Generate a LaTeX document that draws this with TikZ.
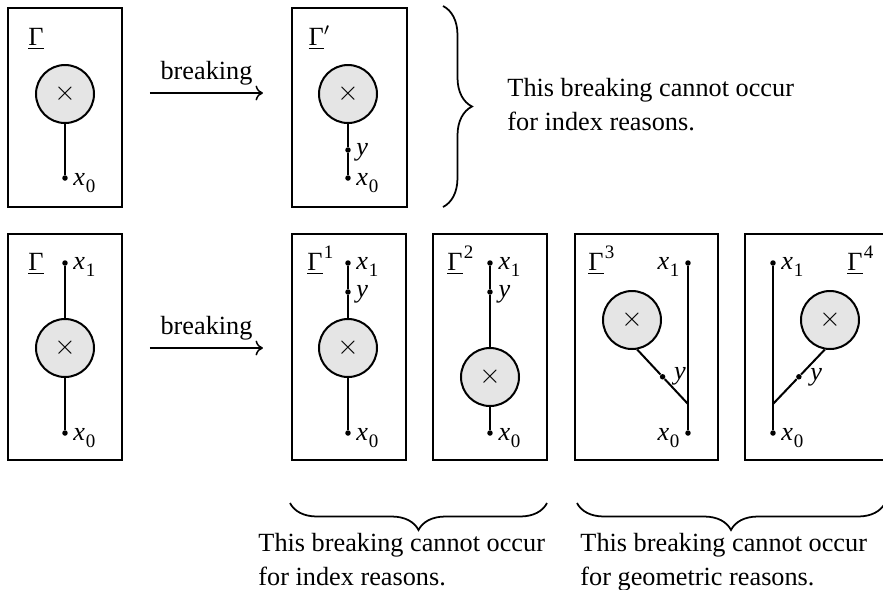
\documentclass[tikz,border=0pt]{standalone}
\usepackage{fontspec}
\setmainfont{Liberation Serif}
\usetikzlibrary{arrows.meta,decorations.pathreplacing,calc}
\newcommand\myx[1]{\textit{x}\kern0.3pt\raisebox{-0.28em}{\fontsize{7.6}{8}\selectfont #1}}
\newcommand\myy{\textit{y}}
\newcommand\myG[1]{\underline{Γ}\raisebox{0.45em}{\fontsize{7.6}{8}\selectfont\kern0.5pt #1}}
\begin{document}
\begin{tikzpicture}[x=0.4pt,y=-0.4pt,
  font=\fontsize{10.5}{13.6}\selectfont,
  frame/.style={draw, line width=0.8pt, inner sep=0pt},
  blob/.style={circle, draw, line width=0.8pt, fill=black!10, minimum size=23.2pt, inner sep=0pt},
  pt/.style={circle, fill=black, inner sep=0pt, minimum size=2.2pt},
  edge/.style={line width=0.8pt},
  arr/.style={line width=0.6pt, -{To[length=3pt,width=6pt]}},
  lw/.style={anchor=base west, inner sep=0pt},
  le/.style={anchor=base east, inner sep=0pt},
  brc/.style={decorate, line width=0.7pt},
  txt/.style={align=left, inner sep=0pt}]
\useasboundingbox (0,0) rectangle (883,589);

% ---------- top row ----------
\node[frame, minimum width=45.6pt, minimum height=79.6pt] (B1) at (65,107.5) {};
\node[lw] (G1) at (28,45) {\myG{}};
\node[blob] (C1) at (65,94) {$\times$};
\node[pt] (P1) at (65,178) {};
\draw[edge] (C1) -- (P1);
\node[lw] (L1) at ($(P1)+(8,7)$) {\myx{0}};

\coordinate (A1s) at (150,93);
\coordinate (A1e) at (263,93);
\draw[arr] (A1s) -- node[anchor=base, yshift=5.5pt, inner sep=0pt] (T1) {breaking} (A1e);

\node[frame, minimum width=45.6pt, minimum height=79.6pt] (B2) at (349.5,107.5) {};
\node[lw] (G2) at (308,45) {\underline{Γ}$'$};
\node[blob] (C2) at (348,94) {$\times$};
\node[pt] (P2y) at (348,150) {};
\node[pt] (P2) at (348,178) {};
\draw[edge] (C2) -- (P2y) -- (P2);
\node[lw] (L2y) at ($(P2y)+(8,5)$) {\myy};
\node[lw] (L2) at ($(P2)+(8,7)$) {\myx{0}};

\coordinate (BRa) at (443,6);
\coordinate (BRb) at (443,207);
\draw[brc, decoration={brace, amplitude=11.6pt}] (BRa) -- (BRb);
\node[txt, anchor=west] (TX1) at (507,105) {This breaking cannot occur\\for index reasons.};

% ---------- bottom row ----------
\node[frame, minimum width=45.6pt, minimum height=90.4pt] (B3) at (65,347) {};
\node[lw] (G3) at (28,270) {\myG{}};
\node[pt] (P3t) at (65,263) {};
\node[blob] (C3) at (65,348) {$\times$};
\node[pt] (P3b) at (65,433) {};
\draw[edge] (P3t) -- (C3) -- (P3b);
\node[lw] (L3t) at ($(P3t)+(8,6)$) {\myx{1}};
\node[lw] (L3b) at ($(P3b)+(8,7)$) {\myx{0}};

\coordinate (A2s) at (150,348);
\coordinate (A2e) at (263,348);
\draw[arr] (A2s) -- node[anchor=base, yshift=5.5pt, inner sep=0pt] (T2) {breaking} (A2e);

% Gamma^1
\node[frame, minimum width=45.6pt, minimum height=90.4pt] (B4) at (349,347) {};
\node[lw] (G4) at (307,270) {\myG{1}};
\node[pt] (P4t) at (348,263) {};
\node[pt] (P4y) at (348,292) {};
\node[blob] (C4) at (348,348) {$\times$};
\node[pt] (P4b) at (348,433) {};
\draw[edge] (P4t) -- (P4y) -- (C4) -- (P4b);
\node[lw] (L4t) at ($(P4t)+(8,6)$) {\myx{1}};
\node[lw] (L4y) at ($(P4y)+(8,5)$) {\myy};
\node[lw] (L4b) at ($(P4b)+(8,7)$) {\myx{0}};

% Gamma^2
\node[frame, minimum width=45.6pt, minimum height=90.4pt] (B5) at (490,347) {};
\node[lw] (G5) at (447,270) {\myG{2}};
\node[pt] (P5t) at (490,263) {};
\node[pt] (P5y) at (490,292) {};
\node[blob] (C5) at (490,377) {$\times$};
\node[pt] (P5b) at (490,433) {};
\draw[edge] (P5t) -- (P5y) -- (C5) -- (P5b);
\node[lw] (L5t) at ($(P5t)+(8,6)$) {\myx{1}};
\node[lw] (L5y) at ($(P5y)+(8,5)$) {\myy};
\node[lw] (L5b) at ($(P5b)+(8,7)$) {\myx{0}};

% Gamma^3
\node[frame, minimum width=57.2pt, minimum height=90.4pt] (B6) at (646.5,347) {};
\node[lw] (G6) at (588,270) {\myG{3}};
\node[pt] (P6t) at (688,263) {};
\node[pt] (P6b) at (688,433) {};
\coordinate (J6) at (688,404);
\node[blob] (C6) at (632,320) {$\times$};
\path (C6.-80) -- node[pt, pos=0.5] (P6y) {} (J6);
\draw[edge] (P6t) -- (J6) -- (P6b);
\draw[edge] (C6.-80) -- (P6y) -- (J6);
\node[le] (L6t) at ($(P6t)+(-8,6)$) {\myx{1}};
\node[le] (L6b) at ($(P6b)+(-8,7)$) {\myx{0}};
\node[lw] (L6y) at ($(P6y)+(11,3)$) {\myy};

% Gamma^4
\node[frame, minimum width=57.2pt, minimum height=90.4pt] (B7) at (816.5,347) {};
\node[lw] (G7) at (847,270) {\myG{4}};
\node[pt] (P7t) at (773,263) {};
\node[pt] (P7b) at (773,433) {};
\coordinate (J7) at (773,404);
\node[blob] (C7) at (830,320) {$\times$};
\path (C7.-100) -- node[pt, pos=0.5] (P7y) {} (J7);
\draw[edge] (P7t) -- (J7) -- (P7b);
\draw[edge] (C7.-100) -- (P7y) -- (J7);
\node[lw] (L7t) at ($(P7t)+(8,6)$) {\myx{1}};
\node[lw] (L7b) at ($(P7b)+(8,7)$) {\myx{0}};
\node[lw] (L7y) at ($(P7y)+(11,4)$) {\myy};

% bottom braces
\coordinate (BR1a) at (547,503);
\coordinate (BR1b) at (290,503);
\draw[brc, decoration={brace, amplitude=10.8pt}] (BR1a) -- (BR1b);
\coordinate (BR2a) at (885,503);
\coordinate (BR2b) at (577,503);
\draw[brc, decoration={brace, amplitude=10.8pt}] (BR2a) -- (BR2b);
\node[txt, anchor=north west] (TX2) at (258,533) {This breaking cannot occur\\for index reasons.};
\node[txt, anchor=north west] (TX3) at (580,533) {This breaking cannot occur\\for geometric reasons.};
\end{tikzpicture}
\end{document}
